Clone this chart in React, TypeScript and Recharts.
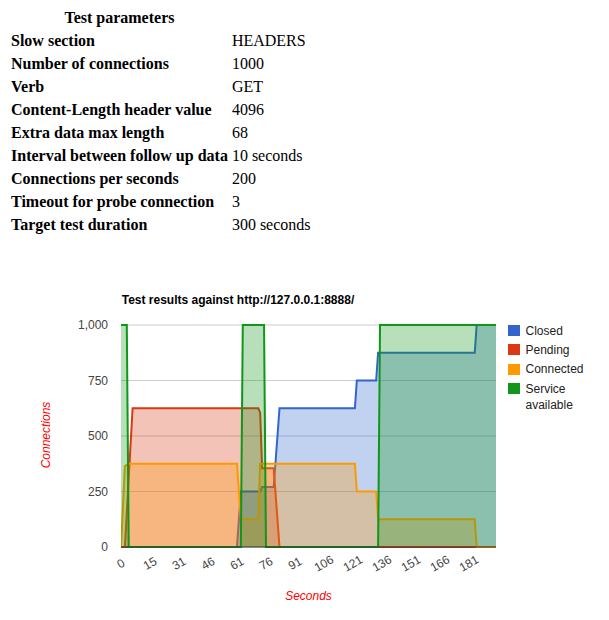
import { AreaChart, Area, XAxis, YAxis, CartesianGrid } from "recharts";

const paramNames = [
  "Slow section",
  "Number of connections",
  "Verb",
  "Content-Length header value",
  "Extra data max length",
  "Interval between follow up data",
  "Connections per seconds",
  "Timeout for probe connection",
  "Target test duration",
];
const paramValues = ["HEADERS", "1000", "GET", "4096", "68", "10 seconds", "200", "3", "300 seconds"];

const seriesNames = ["Closed", "Pending", "Connected", "Service available"];
const seriesColors = ["#3366cc", "#dc3912", "#ff9900", "#109618"];

// [sample index, connections]
const closed = [
  [0, 0], [60, 0], [62, 250], [72, 250], [73, 270], [79, 270], [82, 625],
  [121, 625], [122, 750], [132, 750], [133, 875], [183, 875], [184, 1000], [194, 1000],
];
const pending = [
  [0, 0], [2, 0], [6, 625], [71, 625], [72, 605], [73, 355], [79, 355], [82, 0], [194, 0],
];
const connected = [
  [0, 0], [2, 365], [4, 375], [60, 375], [62, 125], [71, 125], [72, 375],
  [121, 375], [122, 250], [132, 250], [133, 125], [183, 125], [184, 0], [194, 0],
];
const service = [
  [0, 1000], [3, 1000], [4, 0], [62, 0], [63, 1000], [74, 1000], [75, 0],
  [133, 0], [134, 1000], [194, 1000],
];

const xTicks = [0, 15, 30, 45, 60, 75, 90, 105, 120, 135, 150, 165, 180];
const xTickLabels = ["0", "15", "31", "46", "61", "76", "91", "106", "121", "136", "151", "166", "181"];
const yTicks = [0, 250, 500, 750, 1000];

const seriesData = [closed, pending, connected, service].map((pts) =>
  pts.map(([t, v]) => ({ t, v }))
);

const sans = "Arial, 'Liberation Sans', sans-serif";
const serif = "'Liberation Serif', 'Times New Roman', serif";

const SlantTick = ({ x, y, payload }: any) => {
  const cy = y + 16.5;
  return (
    <text
      x={x}
      y={cy}
      textAnchor="middle"
      dominantBaseline="central"
      transform={`rotate(-30 ${x} ${cy})`}
      fontSize={12}
      fill="#444"
    >
      {xTickLabels[xTicks.indexOf(payload.value)]}
    </text>
  );
};

const YTitle = () => (
  <text
    x={46}
    y={155}
    transform="rotate(-90 46 155)"
    textAnchor="middle"
    dominantBaseline="central"
    fill="red"
    fontStyle="italic"
    fontSize={12}
  >
    Connections
  </text>
);

export default function App() {
  return (
    <div style={{ position: "relative", width: 593, height: 604 }}>
      <table
        style={{
          position: "absolute",
          top: -3,
          left: 0,
          fontFamily: serif,
          fontSize: 16,
          lineHeight: "19px",
        }}
      >
        <tbody>
          <tr>
            <th>Test parameters</th>
            <th></th>
          </tr>
          {paramNames.map((n, i) => (
            <tr key={n}>
              <th style={{ textAlign: "left" }}>{n}</th>
              <td>{paramValues[i]}</td>
            </tr>
          ))}
        </tbody>
      </table>

      <div style={{ position: "absolute", left: -8, top: 272, width: 609, height: 340, fontFamily: sans }}>
        <AreaChart width={609} height={340} margin={{ top: 45, right: 113, bottom: 20, left: 0 }}>
          <CartesianGrid horizontal vertical={false} stroke="#ccc" />
          <XAxis
            dataKey="t"
            type="number"
            domain={[0, 194]}
            ticks={xTicks}
            interval={0}
            allowDataOverflow
            tick={<SlantTick />}
            tickLine={false}
            tickSize={0}
            tickMargin={0}
            axisLine={{ stroke: "#333" }}
            height={53}
            label={{
              value: "Seconds",
              position: "insideBottom",
              offset: 0,
              fill: "red",
              fontStyle: "italic",
              fontSize: 12,
            }}
          />
          <YAxis
            type="number"
            domain={[0, 1000]}
            ticks={yTicks}
            width={121}
            tickLine={false}
            axisLine={false}
            tickSize={0}
            tickMargin={13}
            tick={{ fill: "#444", fontSize: 12 }}
            tickFormatter={(v: number) => v.toLocaleString("en-US")}
            label={<YTitle />}
          />
          {seriesData.map((d, i) => (
            <Area
              key={seriesNames[i]}
              data={d}
              dataKey="v"
              name={seriesNames[i]}
              type="linear"
              stroke={seriesColors[i]}
              strokeWidth={2}
              fill={seriesColors[i]}
              fillOpacity={0.3}
              dot={false}
              activeDot={false}
              isAnimationActive={false}
            />
          ))}
        </AreaChart>
      </div>

      <div
        style={{
          position: "absolute",
          left: 113.7,
          top: 285.1,
          fontFamily: sans,
          fontSize: 12,
          lineHeight: "14px",
          fontWeight: "bold",
          whiteSpace: "nowrap",
        }}
      >
        Test results against http://127.0.0.1:8888/
      </div>

      <div
        style={{
          position: "absolute",
          left: 500.3,
          top: 314.7,
          display: "flex",
          flexDirection: "column",
          gap: 2.6,
          fontFamily: sans,
          fontSize: 12,
          lineHeight: "16.7px",
          color: "#222",
        }}
      >
        {seriesNames.map((n, i) => (
          <div key={n} style={{ display: "flex", alignItems: "flex-start" }}>
            <div
              style={{
                width: 11.5,
                height: 11,
                marginTop: 2.3,
                marginRight: 5.7,
                background: seriesColors[i],
                flexShrink: 0,
              }}
            />
            <div style={{ width: 70 }}>{n}</div>
          </div>
        ))}
      </div>
    </div>
  );
}
